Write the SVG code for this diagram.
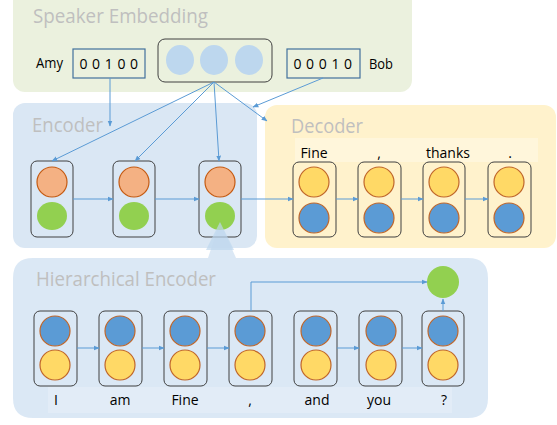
<svg xmlns="http://www.w3.org/2000/svg" width="557" height="425" viewBox="0 0 557 425">
<defs>
<marker id="ah" viewBox="0 0 10 10" refX="9" refY="5" markerWidth="6" markerHeight="6" orient="auto" markerUnits="userSpaceOnUse">
<path d="M0,1 L10,5 L0,9 z" fill="#5b9bd5"/>
</marker>
<style>
.title{font-family:"Open Sans","Liberation Sans",sans-serif;font-size:20px;fill:#bfbfbf}
.lbl{font-family:"Open Sans","Liberation Sans",sans-serif;font-size:14px;fill:#000}
.cell{fill:none;stroke:#404040;stroke-width:1}
.or{fill:#f4b183;stroke:#c55a11;stroke-width:1.2}
.gr{fill:#92d050}
.ye{fill:#ffd966;stroke:#c0662a;stroke-width:1.2}
.bl{fill:#5b9bd5;stroke:#c0662a;stroke-width:1.2}
.ln{fill:none;stroke:#5b9bd5;stroke-width:1;marker-end:url(#ah)}
</style>
</defs>

<g id="speaker-embedding">
<rect x="13" y="-12" width="399" height="104" rx="12" fill="#ebf1de"/>
<text class="title" x="33" y="23" textLength="175" lengthAdjust="spacingAndGlyphs">Speaker Embedding</text>
<text class="lbl" x="36" y="68" textLength="27" lengthAdjust="spacingAndGlyphs">Amy</text>
<rect x="73" y="49" width="72" height="29" fill="none" stroke="#41719c" stroke-width="1.2"/>
<text class="lbl" x="109" y="69" text-anchor="middle" letter-spacing="0.5">0 0 1 0 0</text>
<rect x="158" y="39" width="114" height="43" rx="7" fill="none" stroke="#404040" stroke-width="1"/>
<ellipse cx="180" cy="60" rx="14" ry="15" fill="#bdd7ee"/>
<ellipse cx="214" cy="60" rx="14" ry="15" fill="#bdd7ee"/>
<ellipse cx="249" cy="60" rx="14" ry="15" fill="#bdd7ee"/>
<rect x="287" y="49" width="73" height="29" fill="none" stroke="#41719c" stroke-width="1.2"/>
<text class="lbl" x="323" y="69" text-anchor="middle" letter-spacing="0.5">0 0 0 1 0</text>
<text class="lbl" x="369" y="69" textLength="24" lengthAdjust="spacingAndGlyphs">Bob</text>
</g>

<g id="encoder">
<rect x="13" y="103" width="244" height="145" rx="12" fill="#dae7f4"/>
<text class="title" x="32" y="132" textLength="71" lengthAdjust="spacingAndGlyphs">Encoder</text>
</g>

<g id="decoder">
<rect x="265" y="105" width="291" height="143" rx="12" fill="#fff2cc"/>
<rect x="295" y="138" width="243" height="24" fill="#ffffff" opacity="0.3"/>
<text class="title" x="291" y="133" textLength="72" lengthAdjust="spacingAndGlyphs">Decoder</text>
</g>

<g id="hierarchical-encoder">
<path d="M33,258 L208,258 L220,222 L236,258 L468,258 Q488,258 488,278 L488,398 Q488,418 468,418 L33,418 Q13,418 13,398 L13,278 Q13,258 33,258 Z" fill="#cfe0f1" opacity="0.75"/>
<rect x="48" y="387" width="404" height="26" fill="#ffffff" opacity="0.2"/>
<text class="title" x="36" y="286" textLength="180" lengthAdjust="spacingAndGlyphs">Hierarchical Encoder</text>
</g>

<g id="enc-cell-1">
<rect class="cell" x="31" y="161" width="42" height="76" rx="6"/>
<circle class="or" cx="52" cy="182" r="15"/>
<ellipse class="gr" cx="52" cy="216" rx="15" ry="14"/>
</g>
<g id="enc-cell-2">
<rect class="cell" x="113" y="161" width="42" height="76" rx="6"/>
<circle class="or" cx="134" cy="182" r="15"/>
<ellipse class="gr" cx="134" cy="216" rx="15" ry="14"/>
</g>
<g id="enc-cell-3">
<rect class="cell" x="199" y="161" width="42" height="76" rx="6"/>
<circle class="or" cx="220" cy="182" r="15"/>
<ellipse class="gr" cx="220" cy="216" rx="15" ry="14"/>
<path d="M220,222 L206,250 L234,250 Z" fill="#bdd7ee" opacity="0.7"/>
</g>

<g id="dec-cell-1">
<text class="lbl" x="314" y="158" text-anchor="middle">Fine</text>
<rect class="cell" x="293" y="162" width="43" height="75" rx="6"/>
<circle class="ye" cx="314" cy="182" r="15"/>
<circle class="bl" cx="314" cy="218" r="15"/>
</g>
<g id="dec-cell-2">
<text class="lbl" x="379" y="158" text-anchor="middle">,</text>
<rect class="cell" x="358" y="162" width="43" height="75" rx="6"/>
<circle class="ye" cx="379" cy="182" r="15"/>
<circle class="bl" cx="379" cy="218" r="15"/>
</g>
<g id="dec-cell-3">
<text class="lbl" x="448" y="158" text-anchor="middle">thanks</text>
<rect class="cell" x="423" y="162" width="42" height="75" rx="6"/>
<circle class="ye" cx="444" cy="182" r="15"/>
<circle class="bl" cx="444" cy="218" r="15"/>
</g>
<g id="dec-cell-4">
<text class="lbl" x="510" y="158" text-anchor="middle">.</text>
<rect class="cell" x="488" y="162" width="43" height="75" rx="6"/>
<circle class="ye" cx="509" cy="182" r="15"/>
<circle class="bl" cx="509" cy="218" r="15"/>
</g>

<g id="h-cell-1">
<rect class="cell" x="34" y="311" width="43" height="75" rx="6"/>
<circle class="bl" cx="55" cy="331" r="15"/>
<circle class="ye" cx="55" cy="365" r="15"/>
<text class="lbl" x="56" y="405" text-anchor="middle">I</text>
</g>
<g id="h-cell-2">
<rect class="cell" x="99" y="311" width="43" height="75" rx="6"/>
<circle class="bl" cx="120" cy="331" r="15"/>
<circle class="ye" cx="120" cy="365" r="15"/>
<text class="lbl" x="120" y="405" text-anchor="middle">am</text>
</g>
<g id="h-cell-3">
<rect class="cell" x="164" y="311" width="43" height="75" rx="6"/>
<circle class="bl" cx="185" cy="331" r="15"/>
<circle class="ye" cx="185" cy="365" r="15"/>
<text class="lbl" x="185" y="405" text-anchor="middle">Fine</text>
</g>
<g id="h-cell-4">
<rect class="cell" x="229" y="311" width="43" height="75" rx="6"/>
<circle class="bl" cx="250" cy="331" r="15"/>
<circle class="ye" cx="250" cy="365" r="15"/>
<text class="lbl" x="250" y="405" text-anchor="middle">,</text>
</g>
<g id="h-cell-5">
<rect class="cell" x="294" y="311" width="43" height="75" rx="6"/>
<circle class="bl" cx="316" cy="331" r="15"/>
<circle class="ye" cx="316" cy="365" r="15"/>
<text class="lbl" x="317" y="405" text-anchor="middle">and</text>
</g>
<g id="h-cell-6">
<rect class="cell" x="359" y="311" width="43" height="75" rx="6"/>
<circle class="bl" cx="381" cy="331" r="15"/>
<circle class="ye" cx="381" cy="365" r="15"/>
<text class="lbl" x="379" y="405" text-anchor="middle">you</text>
</g>
<g id="h-cell-7">
<rect class="cell" x="422" y="311" width="42" height="75" rx="6"/>
<circle class="bl" cx="443" cy="331" r="15"/>
<circle class="ye" cx="443" cy="365" r="15"/>
<text class="lbl" x="444" y="405" text-anchor="middle">?</text>
</g>
<g id="sentence-vector">
<circle class="gr" cx="443" cy="282" r="16"/>
</g>

<g id="connectors">
<line class="ln" x1="110" y1="78" x2="110" y2="126"/>
<line class="ln" x1="323" y1="78" x2="253" y2="107"/>
<line class="ln" x1="214" y1="82" x2="52" y2="161"/>
<line class="ln" x1="214" y1="82" x2="135" y2="161"/>
<line class="ln" x1="214" y1="82" x2="219" y2="161"/>
<line class="ln" x1="214" y1="82" x2="267" y2="121"/>
<line class="ln" x1="73" y1="199" x2="113" y2="199"/>
<line class="ln" x1="155" y1="199" x2="199" y2="199"/>
<line class="ln" x1="241" y1="199" x2="293" y2="199"/>
<line class="ln" x1="336" y1="199" x2="358" y2="199"/>
<line class="ln" x1="401" y1="199" x2="423" y2="199"/>
<line class="ln" x1="465" y1="199" x2="488" y2="199"/>
<line class="ln" x1="77" y1="348" x2="99" y2="348"/>
<line class="ln" x1="142" y1="348" x2="164" y2="348"/>
<line class="ln" x1="207" y1="348" x2="229" y2="348"/>
<line class="ln" x1="337" y1="348" x2="359" y2="348"/>
<line class="ln" x1="402" y1="348" x2="422" y2="348"/>
<path class="ln" d="M251,311 L251,282 L427,282"/>
<line class="ln" x1="443" y1="311" x2="443" y2="299"/>
</g>
</svg>
